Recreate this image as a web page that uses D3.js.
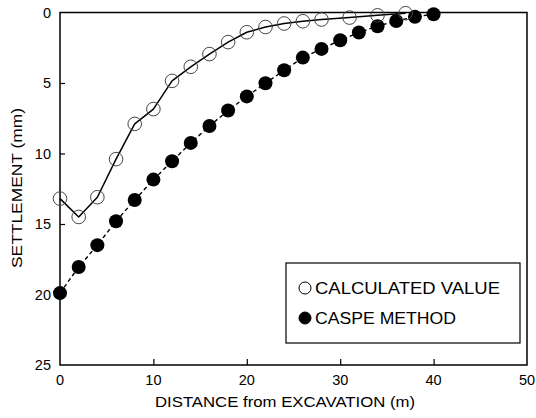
<!DOCTYPE html>
<html>
<head>
<meta charset="utf-8">
<script src="https://cdn.jsdelivr.net/npm/d3@7"></script>
<style>
  html, body { margin: 0; padding: 0; background: #fff; }
  svg { display: block; font-family: "Liberation Sans", Arial, Helvetica, sans-serif; }
</style>
</head>
<body>
<svg id="chart" width="536" height="418"></svg>
<script>
// Distance from excavation (m) and settlement (mm)
const calcDistance = [0, 2, 4, 6, 8, 10, 12, 14, 16, 18, 20, 22, 24, 26, 28, 31, 34, 37];
const calcSettlement = [13.2, 14.5, 13.1, 10.4, 7.9, 6.85, 4.85, 3.85, 2.95, 2.1, 1.4, 1.03, 0.78, 0.62, 0.5, 0.36, 0.2, 0.05];

const caspeDistance = [0, 2, 4, 6, 8, 10, 12, 14, 16, 18, 20, 22, 24, 26, 28, 30, 32, 34, 36, 38, 40];
const caspeSettlement = [19.9, 18.05, 16.5, 14.8, 13.3, 11.85, 10.55, 9.25, 8.05, 6.95, 5.95, 5.02, 4.1, 3.2, 2.58, 1.97, 1.42, 0.97, 0.6, 0.31, 0.12];

const xTicks = [0, 10, 20, 30, 40, 50];
const yTicks = [0, 5, 10, 15, 20, 25];
const legendLabels = ["CALCULATED VALUE", "CASPE METHOD"];

const svg = d3.select("#chart");
const x = d3.scaleLinear().domain([0, 50]).range([60, 527]);
const y = d3.scaleLinear().domain([0, 25]).range([12.5, 365]);

const calc = calcDistance.map((d, i) => ({ x: d, y: calcSettlement[i] }));
const caspe = caspeDistance.map((d, i) => ({ x: d, y: caspeSettlement[i] }));

// Frame
svg.append("rect")
  .attr("x", x(0)).attr("y", y(0))
  .attr("width", x(50) - x(0)).attr("height", y(25) - y(0))
  .attr("fill", "none").attr("stroke", "#000").attr("stroke-width", 1.5);

// Bottom axis: inward ticks, major every 10, minor every 5
const xAxis = svg.append("g").attr("transform", `translate(0,${y(25)})`);
xAxis.call(d3.axisBottom(x).tickValues(d3.range(5, 50, 10)).tickSize(-4).tickFormat(""));
xAxis.call(d3.axisBottom(x).tickValues(xTicks.slice(1, -1)).tickSize(-6).tickFormat(""));
xAxis.selectAll(".domain").remove();
xAxis.selectAll("line").attr("stroke", "#000").attr("stroke-width", 1.2);
svg.append("g").selectAll("text").data(xTicks).join("text")
  .attr("x", d => x(d)).attr("y", 385)
  .attr("text-anchor", "middle")
  .attr("font-size", 14.5)
  .text(d => d);

// Left axis: inward ticks, major every 5, minor every 2.5
const yAxis = svg.append("g").attr("transform", `translate(${x(0)},0)`);
yAxis.call(d3.axisLeft(y).tickValues(d3.range(2.5, 25, 5)).tickSize(-3).tickFormat(""));
yAxis.call(d3.axisLeft(y).tickValues(yTicks.slice(1, -1)).tickSize(-5).tickFormat(""));
yAxis.selectAll(".domain").remove();
yAxis.selectAll("line").attr("stroke", "#000").attr("stroke-width", 1.2);
svg.append("g").selectAll("text").data(yTicks).join("text")
  .attr("x", 51).attr("y", d => y(d) + 5)
  .attr("text-anchor", "end")
  .attr("font-size", 14.5)
  .text(d => d);

// Axis titles
svg.append("text")
  .attr("x", 285).attr("y", 407)
  .attr("text-anchor", "middle")
  .attr("font-size", 14.5)
  .attr("textLength", 260).attr("lengthAdjust", "spacingAndGlyphs")
  .text("DISTANCE from EXCAVATION (m)");
svg.append("text")
  .attr("transform", `translate(22,188) rotate(-90)`)
  .attr("text-anchor", "middle")
  .attr("font-size", 14.5)
  .attr("textLength", 160).attr("lengthAdjust", "spacingAndGlyphs")
  .text("SETTLEMENT (mm)");

// CASPE method: dashed line with filled markers
svg.append("path").datum(caspe)
  .attr("fill", "none").attr("stroke", "#000").attr("stroke-width", 1.4)
  .attr("stroke-dasharray", "4,3")
  .attr("d", d3.line().x(d => x(d.x)).y(d => y(d.y)));
svg.append("g").selectAll("circle").data(caspe).join("circle")
  .attr("cx", d => x(d.x)).attr("cy", d => y(d.y)).attr("r", 7)
  .attr("fill", "#000");

// Calculated value: solid polyline with open markers
svg.append("path").datum(calc)
  .attr("fill", "none").attr("stroke", "#000").attr("stroke-width", 1.5)
  .attr("stroke-linejoin", "round")
  .attr("d", d3.line().x(d => x(d.x)).y(d => y(d.y)));
svg.append("g").selectAll("circle").data(calc).join("circle")
  .attr("cx", d => x(d.x)).attr("cy", d => y(d.y)).attr("r", 6.8)
  .attr("fill", "none").attr("stroke", "#444").attr("stroke-width", 1);

// Legend
const legend = svg.append("g");
legend.append("rect")
  .attr("x", 286).attr("y", 263).attr("width", 234).attr("height", 80)
  .attr("fill", "#fff").attr("stroke", "#000").attr("stroke-width", 1.2);
legendLabels.forEach((label, i) => {
  const cy = 288 + i * 30;
  legend.append("circle")
    .attr("cx", 305).attr("cy", cy).attr("r", 6)
    .attr("fill", i === 0 ? "#fff" : "#000")
    .attr("stroke", "#000").attr("stroke-width", 1);
  legend.append("text")
    .attr("x", 315).attr("y", cy + 6)
    .attr("font-size", 16)
    .attr("textLength", i === 0 ? 185 : 141).attr("lengthAdjust", "spacingAndGlyphs")
    .text(label);
});
</script>
</body>
</html>
